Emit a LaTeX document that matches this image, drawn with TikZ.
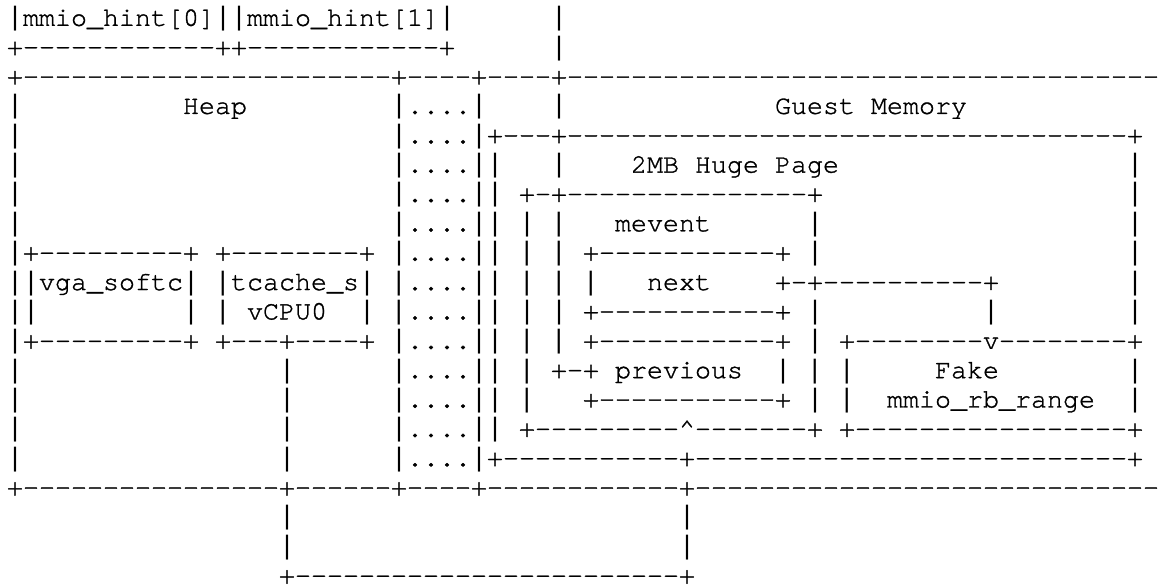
\documentclass[tikz,border=0pt]{standalone}
\usepackage{fontspec}
\setmonofont{texgyrecursor-regular.otf}[FakeBold=1.2]
\newfontfamily\barfont{Liberation Mono}
% a run of n hyphens
\ExplSyntaxOn
\cs_new:Npn \dashrun #1 { \prg_replicate:nn {#1} {-} }
\ExplSyntaxOff
% vertical bars taken from a face with full-height bars
\begingroup
\catcode`\|=\active
\gdef|{{\barfont\string|}}
\endgroup
\newcommand\asciifont{\ttfamily\fontsize{26.667pt}{29.36pt}\selectfont\frenchspacing}
\begin{document}
\catcode`\|=\active
\begin{tikzpicture}[x=16pt, y=-29.36pt,
  ch/.style={anchor=base west, inner sep=0pt, outer sep=0pt, font=\asciifont, text=black}]
\useasboundingbox (0pt,0pt) rectangle (1162pt,-584pt);
\begin{scope}[shift={(7pt,3.56pt)}]
% mmio hint slots
\node[ch] (r1a) at (0,1) {|mmio\_hint[0]||mmio\_hint[1]|};
\node[ch] (r1b) at (34,1) {|};
\node[ch] (r2a) at (0,2) {+\dashrun{12}++\dashrun{12}+};
\node[ch] (r2b) at (34,2) {|};
% top of heap / guest memory
\node[ch] (r3a) at (0,3) {+\dashrun{23}+----+----+\dashrun{37}};
\node[ch] (r4a) at (0,4) {|};
\node[ch] (r4b) at (11,4) {Heap};
\node[ch] (r4c) at (24,4) {|....|};
\node[ch] (r4d) at (34,4) {|};
\node[ch] (r4e) at (48,4) {Guest Memory};
\node[ch] (r5a) at (0,5) {|};
\node[ch] (r5b) at (24,5) {|....|+---+\dashrun{35}+};
\node[ch] (r6a) at (0,6) {|};
\node[ch] (r6b) at (24,6) {|....||};
\node[ch] (r6c) at (34,6) {|};
\node[ch] (r6d) at (39,6) {2MB Huge Page};
\node[ch] (r6e) at (70,6) {|};
\node[ch] (r7a) at (0,7) {|};
\node[ch] (r7b) at (24,7) {|....||};
\node[ch] (r7c) at (32,7) {+-+\dashrun{15}+};
\node[ch] (r7d) at (70,7) {|};
\node[ch] (r8a) at (0,8) {|};
\node[ch] (r8b) at (24,8) {|....||};
\node[ch] (r8c) at (32,8) {| |};
\node[ch] (r8d) at (38,8) {mevent};
\node[ch] (r8e) at (50,8) {|};
\node[ch] (r8f) at (70,8) {|};
% heap objects, mevent chain
\node[ch] (r9a) at (0,9) {|+\dashrun{9}+ +\dashrun{8}+ |....|| | | +\dashrun{11}+ |};
\node[ch] (r9b) at (70,9) {|};
\node[ch] (r10a) at (0,10) {||vga\_softc| |tcache\_s| |....|| | | |};
\node[ch] (r10b) at (40,10) {next};
\node[ch] (r10c) at (48,10) {+-+\dashrun{10}+};
\node[ch] (r10d) at (70,10) {|};
\node[ch] (r11a) at (0,11) {||};
\node[ch] (r11b) at (11,11) {| | vCPU0};
\node[ch] (r11c) at (22,11) {| |....|| | | +\dashrun{11}+ |};
\node[ch] (r11d) at (61,11) {|};
\node[ch] (r11e) at (70,11) {|};
\node[ch] (r12a) at (0,12) {|+\dashrun{9}+ +---+----+ |....|| | | +\dashrun{11}+ | +\dashrun{8}v\dashrun{8}+};
\node[ch] (r13a) at (0,13) {|};
\node[ch] (r13b) at (17,13) {|};
\node[ch] (r13c) at (24,13) {|....|| | +-+ previous};
\node[ch] (r13d) at (48,13) {| | |};
\node[ch] (r13e) at (58,13) {Fake};
\node[ch] (r13f) at (70,13) {|};
\node[ch] (r14a) at (0,14) {|};
\node[ch] (r14b) at (17,14) {|};
\node[ch] (r14c) at (24,14) {|....|| |};
\node[ch] (r14d) at (36,14) {+\dashrun{11}+ | |};
\node[ch] (r14e) at (55,14) {mmio\_rb\_range};
\node[ch] (r14f) at (70,14) {|};
\node[ch] (r15a) at (0,15) {|};
\node[ch] (r15b) at (17,15) {|};
\node[ch] (r15c) at (24,15) {|....|| +\dashrun{9}\textasciicircum\dashrun{7}+ +\dashrun{17}+};
\node[ch] (r16a) at (0,16) {|};
\node[ch] (r16b) at (17,16) {|};
\node[ch] (r16c) at (24,16) {|....|+\dashrun{11}+\dashrun{27}+};
% bottom of heap / guest memory and the link below
\node[ch] (r17a) at (0,17) {+\dashrun{16}+\dashrun{6}+----+\dashrun{12}+\dashrun{29}};
\node[ch] (r18a) at (17,18) {|};
\node[ch] (r18b) at (42,18) {|};
\node[ch] (r19a) at (17,19) {|};
\node[ch] (r19b) at (42,19) {|};
\node[ch] (r20a) at (17,20) {+\dashrun{24}+};
\end{scope}
\end{tikzpicture}
\end{document}
